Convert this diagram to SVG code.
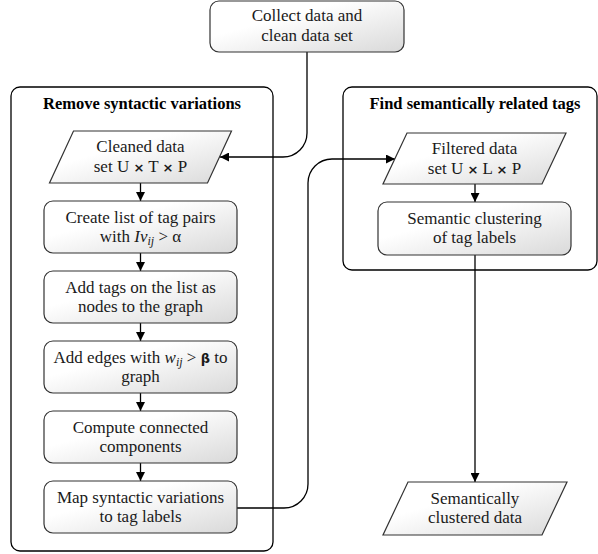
<svg xmlns="http://www.w3.org/2000/svg" width="598" height="554" viewBox="0 0 598 554" font-family="Liberation Serif, serif">
<defs>
<linearGradient id="g" x1="0" y1="0" x2="1" y2="1">
<stop offset="0.35" stop-color="#ffffff"/>
<stop offset="1" stop-color="#d9d9d9"/>
</linearGradient>
<marker id="arr" viewBox="0 0 10 10" refX="10" refY="5" markerWidth="9" markerHeight="9" markerUnits="userSpaceOnUse" orient="auto">
<path d="M0,0 L10,5 L0,10 z" fill="#000"/>
</marker>
<style>
.grp{fill:#fff;stroke:#000;stroke-width:1.3}
.nd{fill:url(#g);stroke:#333;stroke-width:1.2}
.t{font-size:17px;fill:#1a1a1a;text-anchor:middle}
.tt{font-size:16.5px;font-weight:bold;fill:#000;text-anchor:middle}
.ca{fill:none;stroke:#000;stroke-width:1.3;marker-end:url(#arr)}
.x{font-weight:bold;font-size:13px}
.i{font-style:italic}
.s{font-style:italic;font-size:12px}
</style>
</defs>
<rect width="598" height="554" fill="#fff"/>

<g id="group-syntactic">
<rect class="grp" x="11" y="87" width="262" height="464" rx="9"/>
<text class="tt" x="142" y="109">Remove syntactic variations</text>
</g>
<g id="group-semantic">
<rect class="grp" x="343" y="87" width="254" height="183" rx="9"/>
<text class="tt" x="475" y="109">Find semantically related tags</text>
</g>

<g id="connectors">
<path class="ca" d="M307,52 V133 A24,24 0 0 1 283,157 H220"/>
<path class="ca" d="M237,508 H284 A24,24 0 0 0 308,484 V183 A24,24 0 0 1 332,159 H395"/>
<path class="ca" d="M140.5,183 V201"/>
<path class="ca" d="M140.5,253 V271"/>
<path class="ca" d="M140.5,323 V341"/>
<path class="ca" d="M140.5,393 V411"/>
<path class="ca" d="M140.5,463 V481"/>
<path class="ca" d="M475,184 V202"/>
<path class="ca" d="M475,255 V482"/>
</g>

<g id="collect">
<rect class="nd" x="210" y="1" width="194" height="51" rx="9"/>
<text class="t" x="307" y="21">Collect data and</text>
<text class="t" x="307" y="40.5">clean data set</text>
</g>

<g id="cleaned">
<polygon class="nd" points="73.5,131 231.5,131 207.5,183 49.5,183"/>
<text class="t" x="140.5" y="152">Cleaned data</text>
<text class="t" x="140.5" y="172">set U <tspan class="x" font-family="DejaVu Sans, sans-serif">×</tspan> T <tspan class="x" font-family="DejaVu Sans, sans-serif">×</tspan> P</text>
</g>

<g id="create-list">
<rect class="nd" x="44" y="201" width="193" height="52" rx="9"/>
<text class="t" x="140.5" y="222.5">Create list of tag pairs</text>
<text class="t" x="140.5" y="242">with <tspan class="i">Iv</tspan><tspan class="s" dy="3">ij</tspan><tspan dy="-3"> &gt; α</tspan></text>
</g>

<g id="add-tags">
<rect class="nd" x="44" y="271" width="193" height="52" rx="9"/>
<text class="t" x="140.5" y="292.5">Add tags on the list as</text>
<text class="t" x="140.5" y="312">nodes to the graph</text>
</g>

<g id="add-edges">
<rect class="nd" x="44" y="341" width="193" height="52" rx="9"/>
<text class="t" x="140.5" y="362.5">Add edges with <tspan class="i">w</tspan><tspan class="s" dy="3">ij</tspan><tspan dy="-3"> &gt; </tspan><tspan class="x" font-size="15px" font-family="DejaVu Sans, sans-serif">β</tspan> to</text>
<text class="t" x="140.5" y="382">graph</text>
</g>

<g id="compute">
<rect class="nd" x="44" y="411" width="193" height="52" rx="9"/>
<text class="t" x="140.5" y="432.5">Compute connected</text>
<text class="t" x="140.5" y="452">components</text>
</g>

<g id="map">
<rect class="nd" x="44" y="481" width="193" height="52" rx="9"/>
<text class="t" x="140.5" y="502.5">Map syntactic variations</text>
<text class="t" x="140.5" y="522">to tag labels</text>
</g>

<g id="filtered">
<polygon class="nd" points="407,133 566,133 542,184 383,184"/>
<text class="t" x="474.5" y="154">Filtered data</text>
<text class="t" x="474.5" y="174">set U <tspan class="x" font-family="DejaVu Sans, sans-serif">×</tspan> L <tspan class="x" font-family="DejaVu Sans, sans-serif">×</tspan> P</text>
</g>

<g id="semantic-clustering">
<rect class="nd" x="378" y="202" width="193" height="53" rx="9"/>
<text class="t" x="474.5" y="223.5">Semantic clustering</text>
<text class="t" x="474.5" y="243">of tag labels</text>
</g>

<g id="clustered-data">
<polygon class="nd" points="408,482 567,482 542,535 383,535"/>
<text class="t" x="475" y="503.5">Semantically</text>
<text class="t" x="475" y="523">clustered data</text>
</g>
</svg>
